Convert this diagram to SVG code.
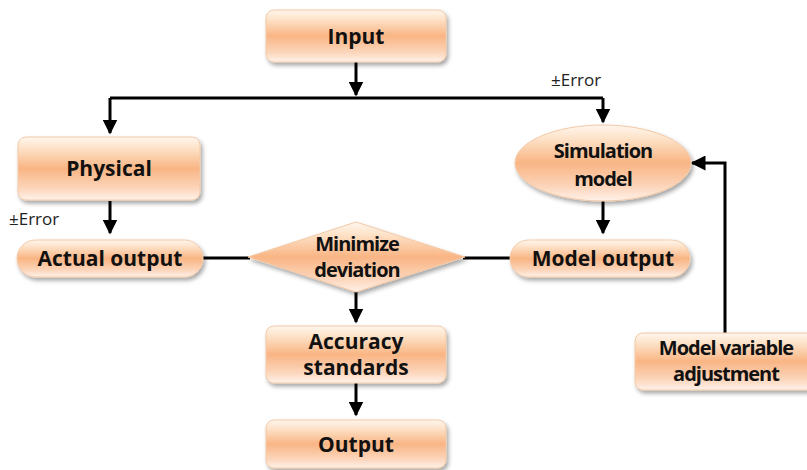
<svg xmlns="http://www.w3.org/2000/svg" width="807" height="470" viewBox="0 0 807 470">
<defs>
<linearGradient id="g" x1="0" y1="0" x2="0" y2="1">
<stop offset="0" stop-color="#fff6ee"/>
<stop offset="0.18" stop-color="#fde2c8"/>
<stop offset="0.5" stop-color="#f9b584"/>
<stop offset="0.82" stop-color="#fcd6bc"/>
<stop offset="1" stop-color="#fff2ea"/>
</linearGradient>
<filter id="sh" x="-10%" y="-10%" width="125%" height="140%">
<feDropShadow dx="2" dy="3" stdDeviation="2" flood-color="#000" flood-opacity="0.35"/>
</filter>
<marker id="ah" viewBox="0 0 10 10" refX="9" refY="5" markerWidth="5" markerHeight="5" orient="auto" markerUnits="strokeWidth">
<path d="M0,0 L10,5 L0,10 z" fill="#000"/>
</marker>
<style>
.n{fill:url(#g);filter:url(#sh);stroke:#f3c9a6;stroke-width:1}
.t{font-family:"Open Sans","Noto Sans",sans-serif;font-weight:bold;font-size:21px;fill:#111;text-anchor:middle}
.tc{font-family:"Open Sans","Noto Sans",sans-serif;font-weight:bold;font-size:20px;fill:#111;text-anchor:middle;letter-spacing:-1px}
.c{fill:none;stroke:#000;stroke-width:3}
.e{font-family:"Open Sans","Noto Sans",sans-serif;font-size:17px;fill:#222}
</style>
</defs>
<g id="connectors">
<path class="c" d="M356,62 V95" marker-end="url(#ah)"/>
<path class="c" d="M110,98 H603"/>
<path class="c" d="M110,98 V133" marker-end="url(#ah)"/>
<path class="c" d="M603,98 V122" marker-end="url(#ah)"/>
<path class="c" d="M110,201 V233" marker-end="url(#ah)"/>
<path class="c" d="M603,201 V233" marker-end="url(#ah)"/>
<path class="c" d="M203,258 H250"/>
<path class="c" d="M463,258 H510"/>
<path class="c" d="M356,292 V322" marker-end="url(#ah)"/>
<path class="c" d="M356,383 V415" marker-end="url(#ah)"/>
<path class="c" d="M725,333 V163 H692" marker-end="url(#ah)"/>
<text class="e" x="551" y="86">±Error</text>
<text class="e" x="9" y="225">±Error</text>
</g>
<g id="input">
<rect class="n" x="266" y="10" width="180" height="52" rx="8"/>
<text class="t" x="356" y="44">Input</text>
</g>
<g id="physical">
<rect class="n" x="18" y="137" width="182" height="63" rx="8"/>
<text class="t" x="109" y="176">Physical</text>
</g>
<g id="simulation">
<ellipse class="n" cx="603" cy="163" rx="88" ry="38"/>
<text class="tc" x="603" y="158">Simulation</text>
<text class="tc" x="603" y="186">model</text>
</g>
<g id="actual">
<rect class="n" x="17" y="240" width="186" height="37" rx="18.5"/>
<text class="t" x="110" y="266">Actual output</text>
</g>
<g id="minimize">
<polygon class="n" points="356,222 465,257 356,292 248,257"/>
<text class="tc" x="357" y="251">Minimize</text>
<text class="tc" x="357" y="277">deviation</text>
</g>
<g id="modeloutput">
<rect class="n" x="510" y="240" width="180" height="37" rx="18.5"/>
<text class="t" x="603" y="266">Model output</text>
</g>
<g id="accuracy">
<rect class="n" x="266" y="326" width="180" height="57" rx="8"/>
<text class="t" x="356" y="349">Accuracy</text>
<text class="t" x="356" y="375">standards</text>
</g>
<g id="output">
<rect class="n" x="266" y="420" width="180" height="48" rx="8"/>
<text class="t" x="356" y="452">Output</text>
</g>
<g id="adjust">
<rect class="n" x="635" y="333" width="180" height="57" rx="8"/>
<text class="tc" x="726" y="355">Model variable</text>
<text class="tc" x="726" y="381">adjustment</text>
</g>
</svg>
